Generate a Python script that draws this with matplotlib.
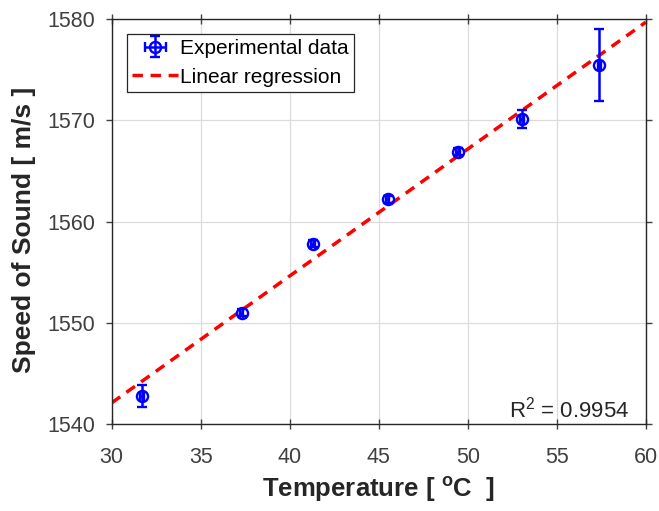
import numpy as np
import matplotlib
matplotlib.use('Agg')
import matplotlib.pyplot as plt

plt.rcParams['font.family'] = ['Liberation Sans', 'DejaVu Sans']

# measured data
temp = [31.7, 37.3, 41.3, 45.5, 49.45, 53.05, 57.4]
speed = [1542.8, 1551.0, 1557.8, 1562.2, 1566.9, 1570.1, 1575.5]
speed_err = [1.1, 0.35, 0.35, 0.35, 0.35, 0.9, 3.55]
temp_err = [0.1, 0.1, 0.1, 0.1, 0.1, 0.1, 0.1]

# regression line
fit_slope = 1.253
fit_icpt = 1504.5
r2 = 0.9954

grey = '#404040'

fig = plt.figure(figsize=(6.59, 5.11), dpi=100)
ax = fig.add_axes([111.7/659, 1 - 424/511, 534/659, 405/511])

eb = ax.errorbar(temp, speed, yerr=speed_err, xerr=temp_err, fmt='o', color='#0000ff',
                 mfc='none', mec='#0000ff', ms=8, mew=1.7, elinewidth=1.8, capsize=3.6,
                 capthick=1.8, label='Experimental data', zorder=3)
xl = np.array([30, 60])
ln, = ax.plot(xl, fit_icpt + fit_slope * xl, '--', color='#ff0000', lw=2.5,
              dashes=(3, 2.2), label='Linear regression', zorder=2)

ax.set_xlim(30, 60)
ax.set_ylim(1540, 1580)
ax.set_xticks(np.arange(30, 61, 5))
ax.set_yticks(np.arange(1540, 1581, 10))
ax.grid(True, color='#dcdcdc', lw=0.9)
ax.set_axisbelow(True)
ax.tick_params(axis='x', direction='inout', length=7, width=1, labelsize=15.5, pad=13,
               top=True, labeltop=False, colors=grey)
ax.tick_params(axis='y', direction='out', length=4, width=1, labelsize=15.5, pad=8,
               right=True, labelright=False, colors=grey)
for s in ax.spines.values():
    s.set_linewidth(1.0)
    s.set_color('#262626')

ax.set_xlabel('Temperature [ $\\mathregular{^oC}$  ]', fontsize=18.5, fontweight='bold',
              color='#262626', labelpad=5)
ax.set_ylabel('Speed of Sound [ m/s ]', fontsize=19, fontweight='bold', color='#262626')
ax.yaxis.set_label_coords(-0.142, 0.48)

ax.text(0.97, 0.017, 'R$\\mathregular{^2}$ = %.4f' % r2, transform=ax.transAxes,
        ha='right', va='baseline', fontsize=16, color='#262626')

leg = ax.legend([eb, ln], ['Experimental data', 'Linear regression'],
                loc='upper left', bbox_to_anchor=(0.029, 0.963), fontsize=15, fancybox=False,
                edgecolor='#262626', framealpha=1, handlelength=2.2, handletextpad=0.1,
                borderpad=0.25, labelspacing=0.45, borderaxespad=0)
leg.get_frame().set_linewidth(0.9)

fig.savefig('out.png', dpi=100)
